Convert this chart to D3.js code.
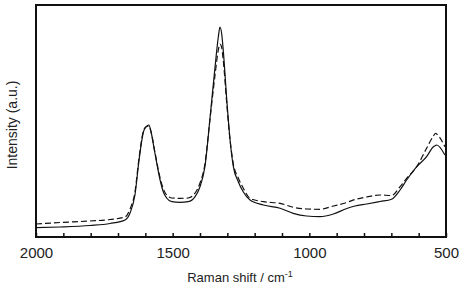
<!DOCTYPE html>
<html lang="en">
<meta charset="utf-8">
<style>
body { margin: 0; background: #fff; }
text { font-family: "Liberation Sans", Arial, sans-serif; fill: #222; }
.frame { fill: none; stroke: #111; stroke-width: 2px; }
.spec { fill: none; stroke: #111; stroke-width: 1.2px; }
</style>
<div id="chart"></div>
<script src="https://d3js.org/d3.v7.min.js"></script>
<script>
"use strict";

// Raman shift (cm-1) sample positions
const shift = [2000, 1912, 1802, 1729, 1674, 1656, 1638, 1623, 1607, 1598, 1587, 1579, 1565, 1546, 1534, 1522,
  1503, 1473, 1443, 1418, 1400, 1382, 1363, 1345, 1333, 1327, 1321, 1315, 1302, 1290, 1278, 1260, 1242,
  1217, 1168, 1107, 1059, 1010, 961, 912, 863, 833, 790, 741, 699, 668, 644, 607, 571, 546, 538, 534, 504];

// intensities (a.u.), solid trace
const solid = [9.3, 10, 11.5, 13.5, 17, 24, 42, 77, 105, 110, 112, 105, 84, 57, 45, 39,
  35.3, 34.7, 35.3, 40.3, 50.3, 70.3, 120, 170, 200, 210, 204, 187, 137, 97, 70.3, 55.3, 45.3,
  37, 32, 28.7, 23.7, 21, 20.3, 23, 28.5, 31, 33, 35.5, 37.7, 47, 57, 70.3, 80.3, 90.3, 91.5, 92, 82];

// intensities (a.u.), dashed trace
const dashed = [13, 14.5, 16, 17.5, 20, 28, 45, 79, 106, 110, 111, 105, 85, 59, 48, 42,
  39, 38.7, 39, 44, 54, 73, 119, 162, 187, 193, 190, 177, 133, 97, 73, 59, 49,
  38.7, 35.3, 33.7, 29.7, 28, 27.7, 31, 34.5, 37.5, 40, 42, 41.5, 50.3, 58.7, 70.3, 88.7, 101, 103.7, 103, 90.3];

const xTicks = [2000, 1500, 1000, 500];

const W = 459, H = 288;
const margin = {top: 5, right: 13, bottom: 51, left: 36};
const width = W - margin.left - margin.right;
const height = H - margin.top - margin.bottom;

const svg = d3.select("#chart").append("svg")
  .attr("width", W)
  .attr("height", H);

const g = svg.append("g")
  .attr("transform", "translate(" + margin.left + "," + margin.top + ")");

const x = d3.scaleLinear().domain([2000, 500]).range([0, width]);
const y = d3.scaleLinear().domain([0, 232]).range([height, 0]);

// clip so the traces stay inside the frame
g.append("clipPath").attr("id", "clip")
  .append("rect").attr("width", width).attr("height", height);

const line = d3.line()
  .x(d => x(d[0]))
  .y(d => y(d[1]))
  .curve(d3.curveMonotoneX);

const solidData = shift.map((s, i) => [s, solid[i]]);
const dashedData = shift.map((s, i) => [s, dashed[i]]);

g.append("path")
  .datum(dashedData)
  .attr("class", "spec")
  .attr("clip-path", "url(#clip)")
  .attr("stroke-dasharray", "6,3")
  .attr("d", line);

g.append("path")
  .datum(solidData)
  .attr("class", "spec")
  .attr("clip-path", "url(#clip)")
  .attr("d", line);

// bottom axis: inward minor ticks every 100
const xAxis = d3.axisBottom(x)
  .tickValues(d3.range(2000, 499, -100))
  .tickSizeInner(-4)
  .tickSizeOuter(0)
  .tickFormat(d => xTicks.includes(d) ? d : "");

const ax = g.append("g")
  .attr("transform", "translate(0," + height + ")")
  .call(xAxis);
ax.select(".domain").remove();
ax.selectAll("line").attr("stroke", "#111").attr("stroke-width", 1.5);
ax.selectAll("text")
  .attr("y", 21)
  .attr("dy", 0)
  .style("font-size", "15px")
  .style("font-family", "'Liberation Sans', Arial, sans-serif")
  .attr("fill", "#222");

g.append("rect")
  .attr("class", "frame")
  .attr("width", width)
  .attr("height", height);

// axis titles
const xt = svg.append("text")
  .attr("x", 240)
  .attr("y", 282)
  .attr("text-anchor", "middle")
  .style("font-size", "13px");
xt.append("tspan").text("Raman shift / cm");
xt.append("tspan").attr("dy", -5).style("font-size", "9px").text("-1");

svg.append("text")
  .attr("transform", "translate(17," + (margin.top + 120) + ") rotate(-90)")
  .attr("text-anchor", "middle")
  .style("font-size", "14px")
  .text("Intensity (a.u.)");
</script>
</html>
